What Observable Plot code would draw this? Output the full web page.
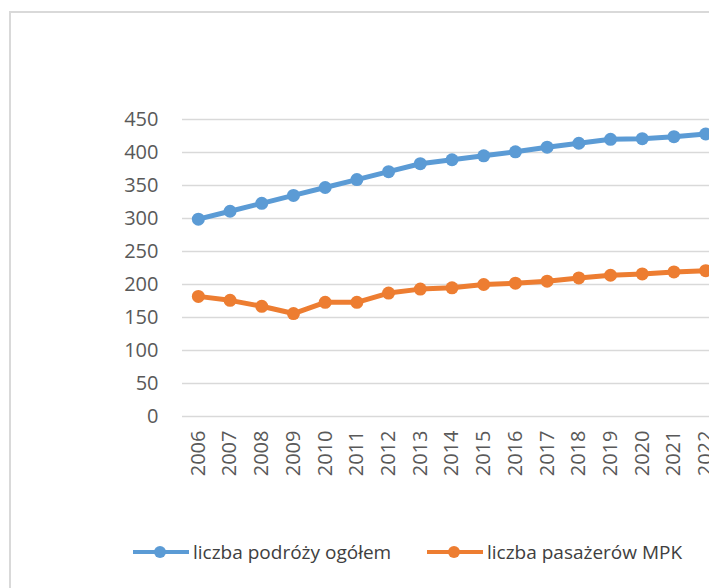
<!DOCTYPE html>
<html>
<head>
<meta charset="utf-8">
<script src="https://cdn.jsdelivr.net/npm/d3@7"></script>
<script src="https://cdn.jsdelivr.net/npm/@observablehq/plot@0.6"></script>
<style>
  html, body { margin: 0; padding: 0; background: #fff; overflow: hidden; width: 709px; height: 588px; }
  #wrap { position: relative; width: 709px; height: 588px; overflow: hidden; }
  #frame { position: absolute; left: 9px; top: 11px; width: 900px; height: 800px; border: 2px solid #d9d9d9; box-sizing: border-box; }
  #chart { position: absolute; left: 0; top: 0; width: 740px; }
  #chart svg { max-width: none !important; }
  .leg { position: absolute; top: 539px; display: flex; align-items: center; font-family: "Open Sans", sans-serif; font-size: 19px; color: #404040; white-space: nowrap; }
  .leg svg { margin-right: 4px; }
</style>
</head>
<body>
<div id="wrap">
  <div id="frame"></div>
  <div id="chart"></div>
  <div class="leg" id="leg1" style="left:133px"></div>
  <div class="leg" id="leg2" style="left:427px"></div>
</div>
<script>
const years = ["2006","2007","2008","2009","2010","2011","2012","2013","2014","2015","2016","2017","2018","2019","2020","2021","2022"];
const totalTrips = [299, 311, 323, 335, 347, 359, 371, 383, 389, 395, 401, 408, 414, 420, 421, 424, 428];
const mpkPassengers = [182, 176, 167, 156, 173, 173, 187, 193, 195, 200, 202, 205, 210, 214, 216, 219, 221];
const seriesNames = ["liczba podróży ogółem", "liczba pasażerów MPK"];
const seriesColors = ["#5B9BD5", "#ED7D31"];
const yTicks = [0, 50, 100, 150, 200, 250, 300, 350, 400, 450];

const data = [];
years.forEach((y, i) => {
  data.push({year: y, value: totalTrips[i], series: seriesNames[0]});
  data.push({year: y, value: mpkPassengers[i], series: seriesNames[1]});
});

const plot = Plot.plot({
  width: 740,
  height: 588,
  marginLeft: 182,
  marginRight: 19,
  marginTop: 119,
  marginBottom: 172,
  style: {fontFamily: "Open Sans, sans-serif", fontSize: "20px", color: "#595959", background: "transparent"},
  x: {type: "point", domain: years, padding: 0.5, round: false},
  y: {domain: [0, 450], ticks: yTicks},
  color: {domain: seriesNames, range: seriesColors},
  marks: [
    Plot.gridY(yTicks, {stroke: "#d9d9d9", strokeWidth: 1.5, strokeOpacity: 1}),
    Plot.axisY(yTicks, {tickSize: 0, tickPadding: 24, label: null, fill: "#595959"}),
    Plot.axisX({tickSize: 0, tickPadding: 14, tickRotate: -90, label: null, fill: "#595959"}),
    Plot.line(data, {x: "year", y: "value", z: "series", stroke: "series", strokeWidth: 5}),
    Plot.dot(data, {x: "year", y: "value", fill: "series", r: 6.5})
  ]
});
document.getElementById("chart").appendChild(plot);

function legendItem(id, name, color) {
  const el = document.getElementById(id);
  el.innerHTML = `<svg width="56" height="16"><line x1="0" y1="8" x2="56" y2="8" stroke="${color}" stroke-width="4"/><circle cx="27" cy="8" r="6" fill="${color}"/></svg><span>${name}</span>`;
}
legendItem("leg1", seriesNames[0], seriesColors[0]);
legendItem("leg2", seriesNames[1], seriesColors[1]);
</script>
</body>
</html>
